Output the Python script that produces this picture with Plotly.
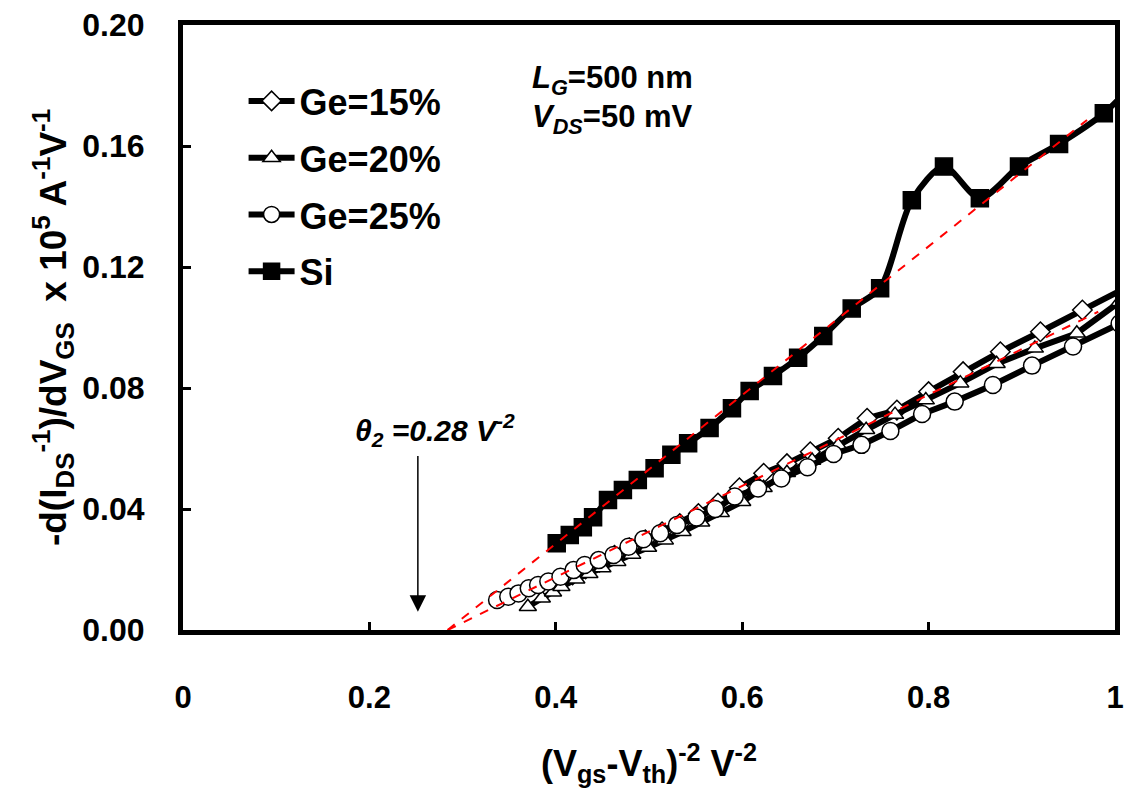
import plotly.graph_objects as go

# ---- data ----
si_x = [0.401, 0.415, 0.429, 0.440, 0.456, 0.472, 0.488, 0.506, 0.524, 0.542, 0.565, 0.589,
        0.608, 0.633, 0.660, 0.687, 0.7175, 0.748, 0.782, 0.8165, 0.855, 0.897, 0.940, 0.988, 1.03]
si_y = [0.0287, 0.0314, 0.0340, 0.0373, 0.0430, 0.0463, 0.0496, 0.0535, 0.0579, 0.0617, 0.0668, 0.0733,
        0.0790, 0.0840, 0.0900, 0.0972, 0.1063, 0.1130, 0.1421, 0.1532, 0.1427, 0.1532, 0.1607, 0.1708, 0.1840]

ge15_x = [0.390, 0.404, 0.418, 0.432, 0.447, 0.463, 0.479, 0.496, 0.514, 0.533, 0.553, 0.574,
          0.597, 0.623, 0.648, 0.673, 0.703, 0.734, 0.766, 0.800, 0.837, 0.877, 0.920, 0.965, 1.012]
ge15_y = [0.0140, 0.0162, 0.0182, 0.0202, 0.0224, 0.0247, 0.0272, 0.0298, 0.0325, 0.0352, 0.0385, 0.0420,
          0.0470, 0.0518, 0.0550, 0.0589, 0.0634, 0.0700, 0.0727, 0.0788, 0.0854, 0.0920, 0.0986, 0.1058, 0.1132]

ge20_x = [0.370, 0.385, 0.397, 0.406, 0.422, 0.436, 0.450, 0.466, 0.482, 0.499, 0.517, 0.536, 0.556,
          0.577, 0.600, 0.623, 0.648, 0.675, 0.703, 0.733, 0.764, 0.797, 0.834, 0.873, 0.914, 0.959, 1.005]
ge20_y = [0.0077, 0.0105, 0.0125, 0.0143, 0.0168, 0.0186, 0.0205, 0.0226, 0.0250, 0.0273, 0.0297, 0.0325, 0.0356,
          0.0388, 0.0424, 0.0470, 0.0520, 0.0560, 0.0610, 0.0662, 0.0712, 0.0760, 0.0816, 0.0880, 0.0931, 0.0981, 0.1085]

ge25_x = [0.337, 0.349, 0.360, 0.371, 0.381, 0.392, 0.405, 0.419, 0.431, 0.446, 0.462, 0.478, 0.494, 0.512,
          0.530, 0.551, 0.571, 0.592, 0.617, 0.642, 0.670, 0.698, 0.728, 0.759, 0.793, 0.828, 0.869, 0.911, 0.955, 1.005]
ge25_y = [0.0099, 0.0110, 0.0121, 0.0138, 0.0149, 0.0160, 0.0176, 0.0198, 0.0215, 0.0231, 0.0248, 0.0275, 0.0300, 0.0320,
          0.0347, 0.0372, 0.0400, 0.0441, 0.0468, 0.0501, 0.0538, 0.0582, 0.0612, 0.0658, 0.0714, 0.0755, 0.0810, 0.0874, 0.0937, 0.1013]

fit_si_x = [0.284, 0.970]
fit_si_y = [0.0, 0.1686]
fit_ge_x = [0.284, 0.982]
fit_ge_y = [0.0, 0.1052]

x_ticks = [0, 0.2, 0.4, 0.6, 0.8, 1.0]
x_labels = ["0", "0.2", "0.4", "0.6", "0.8", "1"]
y_ticks = [0.0, 0.04, 0.08, 0.12, 0.16, 0.20]
y_labels = ["0.00", "0.04", "0.08", "0.12", "0.16", "0.20"]

FONT = "Liberation Sans, Arial, sans-serif"

fig = go.Figure()

def add_series(x, y, name, symbol, size, fill, shape="linear"):
    fig.add_trace(go.Scatter(
        x=x, y=y, name=name, legendgroup=name, mode="lines+markers",
        line=dict(color="black", width=6, shape=shape, smoothing=0.8),
        marker=dict(symbol=symbol, size=size, color=fill, line=dict(color="black", width=1.5)),
    ))

add_series(ge15_x, ge15_y, "Ge=15%", "diamond", 15, "white")
add_series(ge20_x, ge20_y, "Ge=20%", "triangle-up", 15, "white")
add_series(ge25_x, ge25_y, "Ge=25%", "circle", 17, "white")
add_series(si_x, si_y, "Si", "square", 17, "black", shape="spline")

for fx, fy in [(fit_si_x, fit_si_y), (fit_ge_x, fit_ge_y)]:
    fig.add_trace(go.Scatter(x=fx, y=fy, mode="lines", showlegend=False,
                             line=dict(color="red", width=2, dash="dash")))

axis_common = dict(
    showline=True, linecolor="black", linewidth=5, mirror=True,
    ticks="inside", ticklen=8, tickwidth=3, tickcolor="black",
    showgrid=False, zeroline=False, automargin=False,
)

fig.update_xaxes(
    range=[0, 1], tickvals=x_ticks, ticktext=x_labels,
    tickfont=dict(family=FONT, size=31, color="black", weight="bold"),
    ticklabelstandoff=36,
    title=dict(text="(V<sub>gs</sub>-V<sub>th</sub>)<sup>-2</sup> V<sup>-2</sup>",
               font=dict(family=FONT, size=36, color="black", weight="bold"), standoff=38),
    **axis_common,
)
fig.update_yaxes(
    range=[0, 0.2], tickvals=y_ticks, ticktext=y_labels,
    tickfont=dict(family=FONT, size=32, color="black", weight="bold"),
    ticklabelstandoff=27,
    title=dict(text="-d(I<sub>DS</sub><sup>-1</sup>)/dV<sub>GS</sub>  x 10<sup>5</sup> A<sup>-1</sup>V<sup>-1</sup>",
               font=dict(family=FONT, size=37, color="black", weight="bold"), standoff=6),
    **axis_common,
)

fig.add_annotation(x=0.27, y=0.066, xref="x", yref="y", showarrow=False,
                   text="<i>θ<sub>2</sub> =0.28 V<sup>-2</sup></i>",
                   font=dict(family=FONT, size=30, color="black", weight="bold"))
fig.add_annotation(x=0.252, y=0.006, ax=0.252, ay=0.058, xref="x", yref="y", axref="x", ayref="y",
                   text="", showarrow=True, arrowhead=2, arrowsize=2.2, arrowwidth=1.5, arrowcolor="black")
fig.add_annotation(x=0.372, y=0.1818, xref="x", yref="y", xanchor="left", showarrow=False,
                   text="<i>L<sub>G</sub></i>=500 nm",
                   font=dict(family=FONT, size=31, color="black", weight="bold"))
fig.add_annotation(x=0.372, y=0.169, xref="x", yref="y", xanchor="left", showarrow=False,
                   text="<i>V<sub>DS</sub></i>=50 mV",
                   font=dict(family=FONT, size=31, color="black", weight="bold"))

fig.update_layout(
    width=1128, height=798,
    margin=dict(l=183, r=13, t=25, b=168),
    plot_bgcolor="white", paper_bgcolor="white",
    showlegend=True,
    legend=dict(x=0.065, y=0.924, xanchor="left", yanchor="top",
                bgcolor="rgba(0,0,0,0)", tracegroupgap=7, itemwidth=46,
                font=dict(family=FONT, size=36, color="black", weight="bold")),
)

fig.write_html("out.html", config={"displayModeBar": False},
               post_script="document.body.style.margin='0';document.body.style.overflow='hidden';")
